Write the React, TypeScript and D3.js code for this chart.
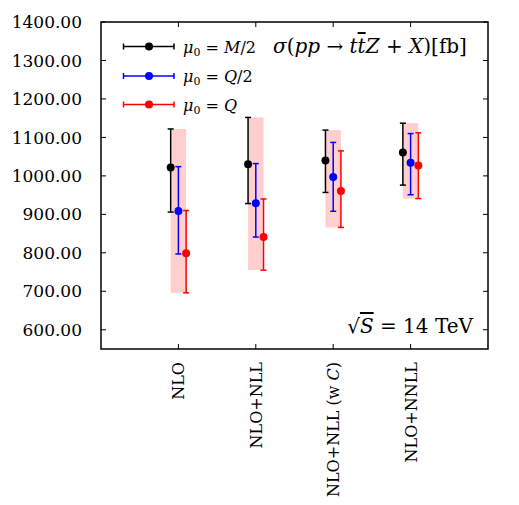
import * as d3 from 'd3';
import { useEffect, useRef } from 'react';

// categories on the x axis
const categories = ['NLO', 'NLO+NLL', 'NLO+NLL (w C)', 'NLO+NNLL'];

// mu0 = M/2
const m2Central = [1022, 1030, 1040, 1061];
const m2Low = [906, 928, 957, 976];
const m2High = [1122, 1152, 1119, 1137];

// mu0 = Q/2
const q2Central = [909, 929, 997, 1034];
const q2Low = [797, 841, 908, 951];
const q2High = [1024, 1032, 1087, 1110];

// mu0 = Q
const qCentral = [799, 841, 961, 1027];
const qLow = [696, 755, 866, 941];
const qHigh = [910, 940, 1065, 1112];

const yTicks = [600, 700, 800, 900, 1000, 1100, 1200, 1300, 1400];

const FONT = 'DejaVu Serif, serif';

const App = () => {
    const ref = useRef<SVGSVGElement>(null);

    useEffect(() => {
        const left = 101, right = 488, top = 22, bottom = 349;

        const svg = d3.select(ref.current);
        svg.selectAll('*').remove();

        const x = d3.scaleLinear().domain([0, 5]).range([left, right]);
        const y = d3.scaleLinear().domain([550, 1400]).range([bottom, top]);
        const off = 0.1;

        const series = [
            { label: 'M', color: '#000000', shift: -off, c: m2Central, lo: m2Low, hi: m2High, half: true },
            { label: 'Q', color: '#0000ff', shift: 0, c: q2Central, lo: q2Low, hi: q2High, half: true },
            { label: 'Q', color: '#ff0000', shift: off, c: qCentral, lo: qLow, hi: qHigh, half: false },
        ];

        // pink envelope band
        categories.forEach((_, i) => {
            const lo = d3.min(series, (s) => s.lo[i]) as number;
            const hi = d3.max(series, (s) => s.hi[i]) as number;
            svg.append('rect')
                .attr('x', x(i + 1 - off))
                .attr('y', y(hi))
                .attr('width', x(i + 1 + off) - x(i + 1 - off))
                .attr('height', y(lo) - y(hi))
                .attr('fill', '#ffcfcf');
        });

        // error bars
        const cap = 3;
        series.forEach((s) => {
            const g = svg.append('g').attr('stroke', s.color).attr('stroke-width', 1.5);
            categories.forEach((_, i) => {
                const cx = x(i + 1 + s.shift);
                g.append('line').attr('x1', cx).attr('x2', cx).attr('y1', y(s.lo[i])).attr('y2', y(s.hi[i]));
                g.append('line').attr('x1', cx - cap).attr('x2', cx + cap).attr('y1', y(s.lo[i])).attr('y2', y(s.lo[i]));
                g.append('line').attr('x1', cx - cap).attr('x2', cx + cap).attr('y1', y(s.hi[i])).attr('y2', y(s.hi[i]));
            });
            svg.selectAll(null)
                .data(s.c)
                .enter()
                .append('circle')
                .attr('cx', (_, i) => x(i + 1 + s.shift))
                .attr('cy', (d) => y(d))
                .attr('r', 4)
                .attr('fill', s.color);
        });

        // frame
        svg.append('rect')
            .attr('x', left).attr('y', top)
            .attr('width', right - left).attr('height', bottom - top)
            .attr('fill', 'none').attr('stroke', 'black').attr('stroke-width', 1.5);

        // y ticks (inward, both sides)
        const tl = 5;
        yTicks.forEach((t) => {
            svg.append('line').attr('x1', left).attr('x2', left + tl).attr('y1', y(t)).attr('y2', y(t)).attr('stroke', 'black');
            svg.append('line').attr('x1', right - tl).attr('x2', right).attr('y1', y(t)).attr('y2', y(t)).attr('stroke', 'black');
            svg.append('text')
                .attr('x', left - 19)
                .attr('y', y(t))
                .attr('dy', '0.36em')
                .attr('text-anchor', 'end')
                .style('font-family', FONT)
                .style('font-size', '17px')
                .text(d3.format('.2f')(t));
        });

        // x ticks and labels
        categories.forEach((c, i) => {
            const px = x(i + 1);
            svg.append('line').attr('x1', px).attr('x2', px).attr('y1', bottom).attr('y2', bottom - tl).attr('stroke', 'black');
            svg.append('line').attr('x1', px).attr('x2', px).attr('y1', top).attr('y2', top + tl).attr('stroke', 'black');
            const txt = svg.append('text')
                .attr('transform', `translate(${px + 6},${bottom + 13}) rotate(-90)`)
                .attr('text-anchor', 'end')
                .style('font-family', FONT)
                .style('font-size', '16px');
            if (c.endsWith('(w C)')) {
                txt.append('tspan').text('NLO+NLL (w ');
                txt.append('tspan').style('font-style', 'italic').text('C');
                txt.append('tspan').text(')');
            } else {
                txt.text(c);
            }
        });

        // legend
        const legY = [46.5, 76, 104.5];
        series.forEach((s, k) => {
            const ly = legY[k];
            const g = svg.append('g').attr('stroke', s.color).attr('stroke-width', 1.5);
            g.append('line').attr('x1', 123.5).attr('x2', 174).attr('y1', ly).attr('y2', ly);
            g.append('line').attr('x1', 123.5).attr('x2', 123.5).attr('y1', ly - cap).attr('y2', ly + cap);
            g.append('line').attr('x1', 174).attr('x2', 174).attr('y1', ly - cap).attr('y2', ly + cap);
            svg.append('circle').attr('cx', 149).attr('cy', ly).attr('r', 4).attr('fill', s.color);
            const t = svg.append('text')
                .attr('x', 183)
                .attr('y', ly + 6)
                .style('font-family', FONT)
                .style('font-size', '16px');
            t.append('tspan').style('font-style', 'italic').text('μ');
            t.append('tspan').attr('dy', 3).style('font-size', '11px').text('0');
            t.append('tspan').attr('dy', -3).text(' = ');
            t.append('tspan').style('font-style', 'italic').text(s.label);
            if (s.half) t.append('tspan').text('/2');
        });

        // title
        const title = svg.append('text')
            .attr('x', 273)
            .attr('y', 53)
            .style('font-family', FONT)
            .style('font-size', '20px');
        title.append('tspan').style('font-style', 'italic').text('σ');
        title.append('tspan').text('(');
        title.append('tspan').style('font-style', 'italic').text('pp');
        title.append('tspan').text(' → ');
        title.append('tspan').style('font-style', 'italic').text('t');
        title.append('tspan').style('font-style', 'italic').style('text-decoration', 'overline').text('t');
        title.append('tspan').style('font-style', 'italic').text('Z');
        title.append('tspan').text(' + ');
        title.append('tspan').style('font-style', 'italic').text('X');
        title.append('tspan').text(')[fb]');

        // energy label
        const en = svg.append('text')
            .attr('x', 473)
            .attr('y', 333)
            .attr('text-anchor', 'end')
            .style('font-family', FONT)
            .style('font-size', '20px');
        en.append('tspan').text('√');
        en.append('tspan').style('font-style', 'italic').style('text-decoration', 'overline').text('S');
        en.append('tspan').text(' = 14 TeV');
    }, []);

    return (
        <svg
            ref={ref}
            width={519}
            height={505}
            style={{ position: 'absolute', left: 0, top: 0, background: 'white' }}
        />
    );
};

export default App;
